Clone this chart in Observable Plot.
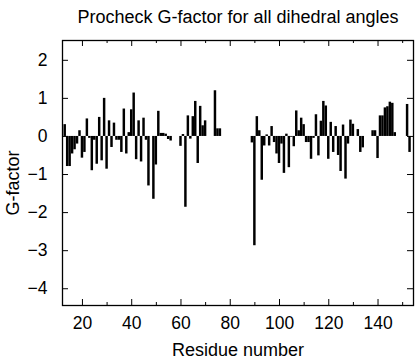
<!DOCTYPE html>
<html>
<head>
<meta charset="utf-8">
<script src="https://cdn.jsdelivr.net/npm/d3@7"></script>
<script src="https://cdn.jsdelivr.net/npm/@observablehq/plot@0.6"></script>
<style>
  html, body { margin: 0; padding: 0; background: #fff; }
  #chart svg { display: block; }
</style>
</head>
<body>
<div id="chart"></div>
<script>
const titleText = "Procheck G-factor for all dihedral angles";
const xLabel = "Residue number";
const yLabel = "G-factor";

const residues = [
  13, 14, 15, 16, 17, 18, 19, 20, 21, 22, 23, 24, 25, 26, 27, 28, 29, 30,
  31, 32, 33, 34, 35, 36, 37, 38, 39, 40, 41, 42, 43, 44, 45, 46, 47, 49,
  50, 51, 52, 53, 54, 55, 56,
  60, 61, 62, 63, 64, 65, 66, 67, 68, 69, 70, 74, 75, 76,
  89, 90, 91, 92, 93, 94, 95, 96, 97, 98, 99, 100, 101, 102, 103, 104, 105, 106,
  107, 108, 109, 110, 111, 112, 113, 114, 115, 116, 117, 118, 119, 120,
  121, 122, 123, 124, 125, 126, 127, 128, 129, 130, 132, 133, 134,
  138, 139, 140, 141, 142, 143, 144, 145, 146, 147, 152, 153
];
const gfactor = [
  0.31, -0.79, -0.79, -0.46, -0.35, -0.2, 0.15, -0.57, -0.42, 0.46, -0.05, -0.9, -0.1, -0.73, 0.5, -0.64, 1.0, -0.86,
  0.41, -0.29, 0.35, -0.1, -0.1, -0.42, 0.72, -0.46, 0.1, 0.7, 1.14, -0.61, 0.41, -0.67, 0.48, -0.1, -1.3, -1.65,
  -0.75, 0.66, 0.08, 0.08, 0.06, -0.08, -0.12,
  -0.26, 0.05, -1.86, 0.54, -0.07, 0.52, 0.92, -0.71, 0.79, 0.28, 0.41, 1.2, 0.2, 0.2,
  -0.17, -2.87, 0.52, 0.15, -1.15, -0.25, 0.04, -0.25, 0.26, -0.16, -0.46, -0.71, -0.2, -0.97, 0.06, -0.82, -0.02, -0.27,
  0.67, 0.15, 0.48, 0.31, -0.16, -0.16, -0.6, -0.05, 0.57, -0.51, 0.4, 0.92, 0.8, -0.6,
  0.37, -0.42, 0.26, -0.5, -0.92, 0.3, -1.12, -0.2, 0.43, 0.32, 0.18, -0.42, -0.3,
  0.15, 0.15, -0.58, 0.54, 0.54, 0.75, 0.78, 0.9, 0.87, 0.1, 0.84, -0.42
];

const xMajorTicks = [20, 40, 60, 80, 100, 120, 140];
const xMinorTicks = [30, 50, 70, 90, 110, 130, 150];
const yTicks = [-4, -3, -2, -1, 0, 1, 2];

const data = residues.map((r, i) => ({residue: r, g: gfactor[i]}));

const W = 416, H = 360;
const mL = 62, mR = 3, mT = 40, mB = 55;
const fw = W - mL - mR, fh = H - mT - mB;

const chart = Plot.plot({
  width: W,
  height: H,
  marginLeft: mL,
  marginRight: mR,
  marginTop: mT,
  marginBottom: mB,
  style: {fontFamily: "'Liberation Sans', Arial, Helvetica, sans-serif", fontSize: "17px", color: "black", background: "white"},
  x: {domain: [11.9, 154.4]},
  y: {domain: [-4.44, 2.52]},
  marks: [
    Plot.rectY(data, {x1: d => d.residue - 0.5, x2: d => d.residue + 0.5, y: "g", fill: "black"}),
    Plot.frame({stroke: "black", strokeWidth: 1.3}),
    Plot.tickX(xMajorTicks, {x: d => d, insetTop: fh - 6, stroke: "black"}),
    Plot.tickX(xMajorTicks, {x: d => d, insetBottom: fh - 6, stroke: "black"}),
    Plot.tickX(xMinorTicks, {x: d => d, insetTop: fh - 3, stroke: "black"}),
    Plot.tickX(xMinorTicks, {x: d => d, insetBottom: fh - 3, stroke: "black"}),
    Plot.tickY(yTicks, {y: d => d, insetRight: fw - 6, stroke: "black"}),
    Plot.tickY(yTicks, {y: d => d, insetLeft: fw - 6, stroke: "black"}),
    Plot.axisX(xMajorTicks, {tickSize: 0, tickPadding: 11, label: null, fontSize: 17.5}),
    Plot.axisY(yTicks, {tickSize: 0, tickPadding: 15, label: null, fontSize: 17.5}),
    Plot.text([xLabel], {frameAnchor: "bottom", dy: 50, fontSize: 18, lineAnchor: "bottom"}),
    Plot.text([yLabel], {frameAnchor: "left", textAnchor: "middle", dx: -49, dy: 10, rotate: -90, fontSize: 18}),
    Plot.text([titleText], {frameAnchor: "top", dy: -18, fontSize: 18, lineAnchor: "bottom"})
  ]
});
document.getElementById("chart").appendChild(chart);
</script>
</body>
</html>
